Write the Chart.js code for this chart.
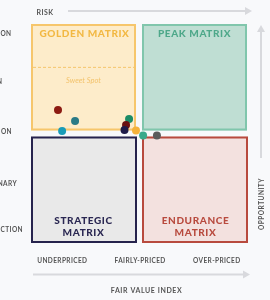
<!DOCTYPE html>
<html>
<head>
<meta charset="utf-8">
<script src="https://cdn.jsdelivr.net/npm/chart.js@4.4.1/dist/chart.umd.min.js"></script>
<style>
html,body{margin:0;padding:0;background:#f8f9fb;}
#wrap{width:270px;height:300px;position:relative;}
</style>
</head>
<body>
<div id="wrap"><canvas id="c" width="270" height="300"></canvas></div>
<script>
// ---- data ----
const fairValueIndex = [12.5, 20.4, 14.4, 45.4, 44.0, 43.3, 48.6, 51.9, 58.3];
const opportunity    = [60.7, 55.7, 51.1, 56.6, 53.9, 51.6, 51.4, 49.1, 49.1];
const pointColors = ['#8c1b12','#2a7a86','#1a9cb8','#1b8c66','#6a1010','#1f1b48','#f4b23a','#3aa98b','#5b5b5b'];
const xTickLabels = ['UNDERPRICED','FAIRLY-PRICED','OVER-PRICED'];
const xTickValues = [14.5, 50.5, 86];
const yTickLabels = ['ON','N','ION','NARY','CTION'];
const yTickValues = [95.4, 73.5, 50.8, 27, 6];
const quadrantTitles = {
  golden: ['GOLDEN MATRIX'],
  peak: ['PEAK MATRIX'],
  strategic: ['STRATEGIC','MATRIX'],
  endurance: ['ENDURANCE','MATRIX']
};

const FONT = 'Lato, "Open Sans", sans-serif';

function arrow(ctx, x1, y1, x2, y2, color) {
  ctx.save();
  ctx.strokeStyle = color; ctx.fillStyle = color; ctx.lineWidth = 2;
  ctx.beginPath(); ctx.moveTo(x1, y1); ctx.lineTo(x2, y2); ctx.stroke();
  const a = Math.atan2(y2 - y1, x2 - x1), L = 7, W = 4;
  const tx = x2 + Math.cos(a) * 4, ty = y2 + Math.sin(a) * 4;
  ctx.beginPath();
  ctx.moveTo(tx, ty);
  ctx.lineTo(tx - Math.cos(a) * L - Math.sin(a) * W, ty - Math.sin(a) * L + Math.cos(a) * W);
  ctx.lineTo(tx - Math.cos(a) * L + Math.sin(a) * W, ty - Math.sin(a) * L - Math.cos(a) * W);
  ctx.closePath(); ctx.fill();
  ctx.restore();
}

function text(ctx, s, x, y, font, color, align, spacing) {
  ctx.save();
  ctx.font = font; ctx.fillStyle = color; ctx.textAlign = align || 'center';
  ctx.textBaseline = 'middle';
  ctx.letterSpacing = (spacing || 0) + 'px';
  ctx.fillText(s, x, y);
  ctx.restore();
}

const quadPlugin = {
  id: 'quads',
  beforeDraw(chart) {
    const ctx = chart.ctx;
    ctx.save(); ctx.fillStyle = '#f8f9fb'; ctx.fillRect(0, 0, chart.width, chart.height); ctx.restore();
  },
  beforeDatasetsDraw(chart) {
    const ctx = chart.ctx, xs = chart.scales.x, ys = chart.scales.y;
    const L = xs.getPixelForValue(0), R = xs.getPixelForValue(100), cx = xs.getPixelForValue(50);
    const T = ys.getPixelForValue(100), B = ys.getPixelForValue(0), cy = ys.getPixelForValue(50);
    const g = 3;
    function box(x1, y1, x2, y2, fill, stroke) {
      ctx.save();
      ctx.fillStyle = fill; ctx.fillRect(x1, y1, x2 - x1, y2 - y1);
      ctx.strokeStyle = stroke; ctx.lineWidth = 2;
      ctx.strokeRect(x1 + 1, y1 + 1, x2 - x1 - 2, y2 - y1 - 2);
      ctx.restore();
    }
    box(L, T, cx - g, cy - 3, '#fdecca', '#f6c66c');
    box(cx + g, T, R, cy - 3, '#bfded3', '#80c6ac');
    box(L, cy + 3, cx - g + 1, B, '#e9e9e9', '#26234d');
    box(cx + g, cy + 3, R + 1, B, '#f3e1df', '#b84a3e');

    const bf = '900 10px ' + FONT;
    const gx = (L + cx - g) / 2, px = (cx + g + R) / 2;
    text(ctx, quadrantTitles.golden[0], gx + 1, T + 10, bf, '#f2b843', 'center', 0.6);
    text(ctx, quadrantTitles.peak[0], px, T + 10, bf, '#4ea88a', 'center', 0.6);
    quadrantTitles.strategic.forEach((s, i) => text(ctx, s, gx, B - 22 + i * 12, bf, '#2a2752', 'center', 0.6));
    quadrantTitles.endurance.forEach((s, i) => text(ctx, s, px + 1, B - 22 + i * 12, bf, '#b84a3e', 'center', 0.6));

    // sweet spot
    const dy = ys.getPixelForValue(80.2);
    ctx.save();
    ctx.strokeStyle = '#f5c66b'; ctx.lineWidth = 1; ctx.setLineDash([3, 2]);
    ctx.beginPath(); ctx.moveTo(L + 2, dy); ctx.lineTo(cx - g - 2, dy); ctx.stroke();
    ctx.restore();
    text(ctx, 'Sweet Spot', gx, dy + 13, 'italic 7.5px ' + FONT, '#f3c36c', 'center', 0);

    // axes arrows
    arrow(ctx, 68, 11, 248, 11, '#d8d9dd');
    arrow(ctx, 33, 274.5, 246, 274.5, '#d8d9dd');
    arrow(ctx, 261, 158, 261, 29, '#d8d9dd');
    text(ctx, 'RISK', 45, 12.5, 'bold 7px ' + FONT, '#555', 'center', 0.5);
    text(ctx, 'FAIR VALUE INDEX', 146.5, 291, 'bold 7px ' + FONT, '#555', 'center', 0.6);
    ctx.save();
    ctx.translate(262, 204); ctx.rotate(-Math.PI / 2);
    text(ctx, 'OPPORTUNITY', 0, 0, 'bold 6.5px ' + FONT, '#555', 'center', 0.5);
    ctx.restore();

    xTickLabels.forEach((s, i) => text(ctx, s, xs.getPixelForValue(xTickValues[i]), 260.5, 'bold 6.5px ' + FONT, '#555', 'center', 0.4));
    const yEnds = [11.5, 2.5, 12, 17, 23];
    yTickLabels.forEach((s, i) => text(ctx, s, yEnds[i], ys.getPixelForValue(yTickValues[i]), 'bold 6.5px ' + FONT, '#555', 'right', 0.4));
  }
};

new Chart(document.getElementById('c'), {
  type: 'scatter',
  data: {
    datasets: [{
      data: fairValueIndex.map((x, i) => ({ x, y: opportunity[i] })),
      backgroundColor: pointColors,
      borderColor: pointColors,
      pointRadius: 4,
      pointHoverRadius: 4,
      borderWidth: 0
    }]
  },
  options: {
    responsive: false,
    animation: false,
    events: [],
    layout: { padding: { left: 31, right: 23, top: 24, bottom: 57 } },
    plugins: { legend: { display: false }, tooltip: { enabled: false } },
    scales: {
      x: { type: 'linear', min: 0, max: 100, display: false },
      y: { type: 'linear', min: 0, max: 100, display: false }
    }
  },
  plugins: [quadPlugin]
});
</script>
</body>
</html>
